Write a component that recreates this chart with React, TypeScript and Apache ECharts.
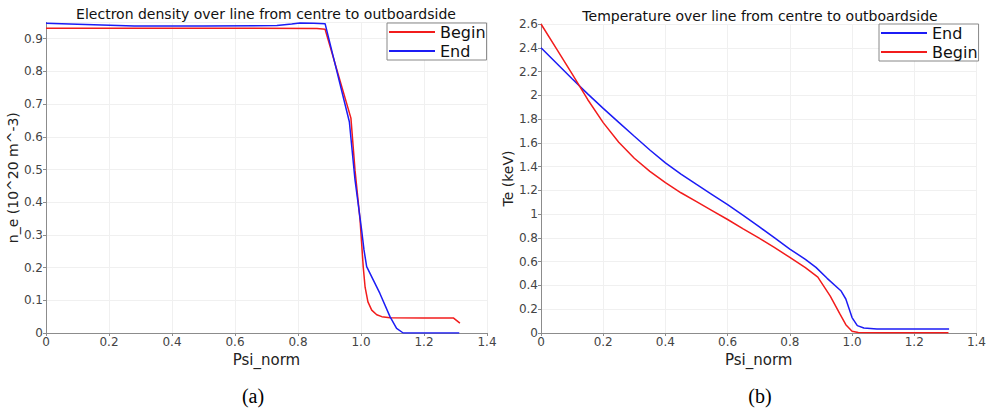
import React, { useEffect, useRef } from "react";
import * as echarts from "echarts";

// Electron density (left panel)
const neBeginX = [0, 0.3, 0.6, 0.86, 0.886, 0.968, 0.981, 0.997, 1.007, 1.013, 1.022, 1.034, 1.05, 1.066, 1.092, 1.2, 1.293, 1.314];
const neBeginY = [0.932, 0.932, 0.932, 0.931, 0.929, 0.657, 0.498, 0.346, 0.203, 0.14, 0.095, 0.07, 0.056, 0.05, 0.047, 0.046, 0.046, 0.03];
const neEndX = [0, 0.1, 0.28, 0.5, 0.733, 0.78, 0.806, 0.85, 0.886, 0.963, 0.981, 1.002, 1.0095, 1.018, 1.04, 1.06, 1.092, 1.113, 1.134, 1.2, 1.312];
const neEndY = [0.947, 0.944, 0.939, 0.939, 0.94, 0.945, 0.948, 0.947, 0.946, 0.646, 0.468, 0.315, 0.254, 0.203, 0.16, 0.121, 0.05, 0.014, 0.0, 0.0, 0.0];

// Electron temperature (right panel)
const teEndX = [0, 0.05, 0.1, 0.15, 0.2, 0.25, 0.3, 0.35, 0.4, 0.45, 0.5, 0.55, 0.6, 0.65, 0.7, 0.75, 0.8, 0.85, 0.884, 0.92, 0.964, 0.98, 1.0, 1.017, 1.038, 1.08, 1.2, 1.312];
const teEndY = [2.4, 2.27, 2.14, 2.012, 1.89, 1.772, 1.655, 1.54, 1.432, 1.337, 1.25, 1.165, 1.08, 0.99, 0.897, 0.802, 0.706, 0.62, 0.552, 0.46, 0.356, 0.286, 0.13, 0.062, 0.042, 0.034, 0.033, 0.033];
const teBeginX = [0, 0.05, 0.1, 0.15, 0.2, 0.25, 0.3, 0.35, 0.4, 0.45, 0.5, 0.55, 0.6, 0.65, 0.7, 0.75, 0.8, 0.85, 0.89, 0.93, 0.96, 0.98, 1.0, 1.02, 1.1, 1.2, 1.31];
const teBeginY = [2.6, 2.39, 2.18, 1.965, 1.77, 1.605, 1.47, 1.36, 1.265, 1.18, 1.105, 1.03, 0.955, 0.877, 0.8, 0.72, 0.636, 0.55, 0.47, 0.31, 0.165, 0.07, 0.015, 0.004, 0.003, 0.003, 0.003];

const titles = ["Electron density over line from centre to outboardside", "Temperature over line from centre to outboardside"];
const yNames = ["n_e (10^20 m^-3)", "Te (keV)"];
const xName = "Psi_norm";
const captions = ["(a)", "(b)"];

const RED = "#f21c1c";
const BLUE = "#1c1cf5";
const FONT = "DejaVu Sans";

const pairs = (xs: number[], ys: number[]) => xs.map((x, i) => [x, ys[i]]);

export default function App() {
  const ref = useRef<HTMLDivElement>(null);
  useEffect(() => {
    if (!ref.current) return;
    const chart = echarts.init(ref.current, null, { renderer: "svg" });
    const axisCommon = {
      axisLine: { show: true, lineStyle: { color: "#8c8c8c", width: 1 } },
      axisTick: { show: true, length: 3, lineStyle: { color: "#8c8c8c" } },
      splitLine: { show: true, lineStyle: { color: "#f0f0f0", width: 1 } },
      axisLabel: { color: "#444", fontSize: 12, fontFamily: FONT, margin: 3 },
      nameTextStyle: { color: "#222", fontSize: 14, fontFamily: FONT },
    };
    const xAxisFor = (gi: number) => ({
      ...axisCommon,
      type: "value",
      gridIndex: gi,
      min: 0,
      max: 1.4,
      interval: 0.2,
      name: xName,
      nameLocation: "middle",
      nameGap: 17,
      nameTextStyle: { color: "#222", fontSize: 15, fontFamily: FONT },
      axisLabel: {
        ...axisCommon.axisLabel,
        formatter: (v: number) => (v === 0 ? "0" : v.toFixed(1)),
      },
    });
    const legendCommon = {
      orient: "vertical",
      backgroundColor: "#fff",
      borderColor: "#888",
      borderWidth: 1,
      borderRadius: 0,
      padding: [0, 1, 0, 2],
      itemGap: 1,
      itemWidth: 46,
      itemHeight: 2,
      icon: "rect",
      textStyle: { fontSize: 16, lineHeight: 18, color: "#111", fontFamily: FONT },
    };
    chart.setOption({
      animation: false,
      backgroundColor: "#fff",
      grid: [
        { left: 46, top: 22.35, width: 441, height: 310.65 },
        { left: 541, top: 24, width: 438, height: 309 },
      ],
      xAxis: [xAxisFor(0), xAxisFor(1)],
      yAxis: [
        {
          ...axisCommon,
          type: "value",
          gridIndex: 0,
          min: 0,
          max: 0.95,
          interval: 0.1,
          name: yNames[0],
          nameLocation: "middle",
          nameGap: 22,
          axisLabel: { ...axisCommon.axisLabel, showMaxLabel: false },
        },
        {
          ...axisCommon,
          type: "value",
          gridIndex: 1,
          min: 0,
          max: 2.6,
          interval: 0.2,
          name: yNames[1],
          nameLocation: "middle",
          nameGap: 22,
        },
      ],
      legend: [
        { ...legendCommon, data: ["Begin", "End"], left: 387, top: 23 },
        { ...legendCommon, data: ["End", "Begin"], left: 879, top: 24 },
      ],
      series: [
        { type: "line", name: "Begin", xAxisIndex: 0, yAxisIndex: 0, data: pairs(neBeginX, neBeginY), showSymbol: false, lineStyle: { color: RED, width: 1.5 }, itemStyle: { color: RED } },
        { type: "line", name: "End", xAxisIndex: 0, yAxisIndex: 0, data: pairs(neEndX, neEndY), showSymbol: false, lineStyle: { color: BLUE, width: 1.5 }, itemStyle: { color: BLUE } },
        { type: "line", name: "End", xAxisIndex: 1, yAxisIndex: 1, data: pairs(teEndX, teEndY), showSymbol: false, lineStyle: { color: BLUE, width: 1.5 }, itemStyle: { color: BLUE } },
        { type: "line", name: "Begin", xAxisIndex: 1, yAxisIndex: 1, data: pairs(teBeginX, teBeginY), showSymbol: false, lineStyle: { color: RED, width: 1.5 }, itemStyle: { color: RED } },
      ],
      graphic: [
        { type: "text", x: 266, y: 14, style: { text: titles[0], fontSize: 14, fontFamily: FONT, fill: "#111", align: "center", verticalAlign: "middle" } },
        { type: "text", x: 760, y: 16, style: { text: titles[1], fontSize: 14, fontFamily: FONT, fill: "#111", align: "center", verticalAlign: "middle" } },
        { type: "text", x: 253, y: 396, style: { text: captions[0], fontSize: 20, fontFamily: "Liberation Serif", fill: "#000", align: "center", verticalAlign: "middle" } },
        { type: "text", x: 760, y: 396, style: { text: captions[1], fontSize: 20, fontFamily: "Liberation Serif", fill: "#000", align: "center", verticalAlign: "middle" } },
      ],
    } as any);
    return () => chart.dispose();
  }, []);
  return <div ref={ref} style={{ position: "absolute", left: 0, top: 0, width: 989, height: 414 }} />;
}
